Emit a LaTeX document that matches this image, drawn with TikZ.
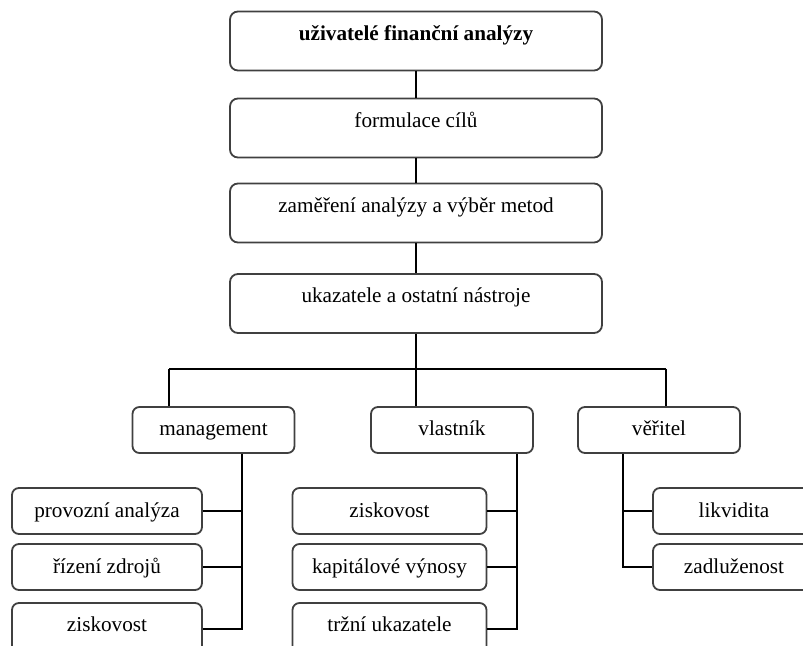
\documentclass[tikz,border=0pt]{standalone}
\usepackage{fontspec}
\setmainfont{Liberation Serif}
\usetikzlibrary{calc}

\begin{document}
\begin{tikzpicture}[x=0.5pt, y=-0.5pt,
    every node/.style={font=\fontsize{10.6}{12}\selectfont},
    topbox/.style={draw=black!75, line width=0.9pt, rounded corners=4pt, minimum width=186pt, minimum height=29.5pt, text height=7.5pt, text depth=8pt},
    midbox/.style={draw=black!75, line width=0.9pt, rounded corners=3.5pt, minimum width=81pt, minimum height=23pt, text height=8pt, text depth=2pt},
    leafbox/.style={midbox, minimum width=97pt},
    lastbox/.style={leafbox, minimum height=26pt, text height=7pt, text depth=5pt},
    link/.style={line width=0.6pt}]
      \useasboundingbox (0,0) rectangle (803,646);
      % Main chain
      \node[topbox] (users) at (416,41) {\textbf{uživatelé finanční analýzy}};
      \node[topbox] (goals) at (416,128) {formulace cílů};
      \node[topbox] (methods) at (416,213) {zaměření analýzy a výběr metod};
      \node[topbox] (tools) at (416,303.5) {ukazatele a ostatní nástroje};
      \foreach \a/\b in {users/goals,goals/methods,methods/tools} {
        \draw[link] (\a.south) -- (\b.north);
      }
      % User groups
      \node[midbox] (mgmt) at (213.5,430) {management};
      \node[midbox] (owner) at (452,430) {vlastník};
      \node[midbox] (creditor) at (659,430) {věřitel};
      % Bus
      \coordinate (busL) at (169,369);
      \coordinate (busR) at (666,369);
      \draw[link] (busL) -- (busR);
      \draw[link] (busL) -- (busL |- mgmt.north);
      \draw[link] (tools.south) -- (tools.south |- owner.north);
      \draw[link] (busR) -- (busR |- creditor.north);
      % Management
      \node[leafbox, minimum width=95pt] (m1) at (107,511) {provozní analýza};
      \node[leafbox, minimum width=95pt] (m2) at (107,567) {řízení zdrojů};
      \node[lastbox, minimum width=95pt] (m3) at (107,629) {ziskovost};
      % Owner
      \node[leafbox] (o1) at (389.5,511) {ziskovost};
      \node[leafbox] (o2) at (389.5,567) {kapitálové výnosy};
      \node[lastbox] (o3) at (389.5,629) {tržní ukazatele};
      % Creditor
      \node[midbox] (c1) at (734,511) {likvidita};
      \node[midbox] (c2) at (734,567) {zadluženost};
      % Trunks
      \coordinate (mtrunk) at (242,0);
      \coordinate (otrunk) at (517,0);
      \coordinate (ctrunk) at (623,0);
      \draw[link] (mtrunk |- mgmt.south) -- (mtrunk |- m3.east) -- (m3.east);
      \foreach \c in {m1,m2} {
        \draw[link] (\c.east) -- (\c.east -| mtrunk);
      }
      \draw[link] (otrunk |- owner.south) -- (otrunk |- o3.east) -- (o3.east);
      \foreach \c in {o1,o2} {
        \draw[link] (\c.east) -- (\c.east -| otrunk);
      }
      \draw[link] (ctrunk |- creditor.south) -- (ctrunk |- c2.west) -- (c2.west);
      \draw[link] (c1.west) -- (c1.west -| ctrunk);
    \end{tikzpicture}
\end{document}
